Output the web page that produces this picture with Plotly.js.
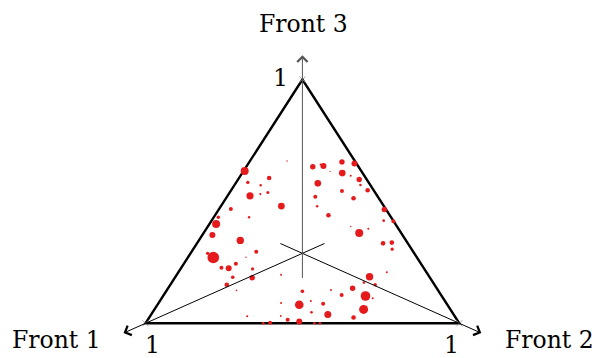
<!DOCTYPE html>
<html>
<head>
<meta charset="utf-8">
<script src="https://cdn.plot.ly/plotly-3.0.1.min.js"></script>
<style>
  html, body { margin: 0; padding: 0; background: #ffffff; }
  #chart { width: 595px; height: 358px; }
</style>
</head>
<body>
<div id="chart"></div>
<script>
// Solutions projected into the triangle spanned by the three fronts.
// x runs along the base (Front 1 = 0, Front 2 = 1), y up to Front 3 (= 1).
const posX = [
  0.316, 0.451, 0.394, 0.326, 0.367, 0.333, 0.366, 0.390, 0.433, 0.272,
  0.330, 0.232, 0.225, 0.213, 0.302, 0.353, 0.198, 0.216, 0.320, 0.288,
  0.242, 0.265, 0.341, 0.278, 0.340, 0.259, 0.290, 0.432,
  0.500, 0.490, 0.432, 0.527, 0.529, 0.566, 0.581, 0.591, 0.625, 0.660,
  0.701, 0.724, 0.695, 0.663, 0.714, 0.696, 0.732, 0.769, 0.324, 0.431,
  0.453, 0.490, 0.397, 0.375, 0.538, 0.556,
  0.533, 0.567, 0.558, 0.588, 0.626, 0.666, 0.627, 0.654, 0.681, 0.685,
  0.708, 0.549, 0.626, 0.663, 0.541, 0.547, 0.583, 0.761, 0.790, 0.759,
  0.654, 0.681, 0.710, 0.757, 0.785, 0.786
];
const posY = [
  0.625, 0.666, 0.596, 0.578, 0.566, 0.523, 0.530, 0.537, 0.481, 0.469,
  0.435, 0.435, 0.407, 0.362, 0.340, 0.294, 0.287, 0.270, 0.271, 0.244,
  0.228, 0.226, 0.223, 0.189, 0.187, 0.158, 0.135, 0.199,
  0.131, 0.076, 0.083, 0.091, 0.045, 0.080, 0.036, 0.137, 0.116, 0.144,
  0.112, 0.103, 0.057, 0.024, 0.191, 0.167, 0.158, 0.209, 0.029, 0.030,
  0.015, 0.007, 0.002, 0.000, 0.000, 0.000,
  0.642, 0.645, 0.651, 0.623, 0.662, 0.655, 0.616, 0.605, 0.590, 0.567,
  0.546, 0.574, 0.543, 0.513, 0.519, 0.480, 0.443, 0.467, 0.419, 0.421,
  0.397, 0.370, 0.388, 0.328, 0.331, 0.304
];
// Weight of each solution (shown as dot size)
const weight = [
  4.0, 0.7, 2.3, 1.7, 1.2, 3.6, 1.1, 1.5, 3.4, 2.0,
  1.2, 1.7, 4.0, 3.0, 3.7, 2.0, 1.7, 5.8, 0.7, 2.0,
  2.0, 3.0, 1.6, 1.8, 2.7, 2.3, 0.8, 1.0,
  1.8, 4.3, 1.0, 1.0, 1.3, 2.0, 3.5, 1.0, 2.0, 2.7,
  4.8, 1.0, 4.5, 2.3, 3.7, 1.3, 1.7, 1.0, 1.1, 0.9,
  2.0, 3.0, 2.0, 1.4, 1.3, 1.3,
  2.7, 3.0, 1.0, 0.6, 2.7, 3.0, 3.3, 1.0, 2.7, 1.3,
  2.3, 3.3, 2.0, 2.3, 2.0, 1.2, 2.3, 2.7, 2.0, 1.3,
  0.7, 4.0, 1.0, 2.3, 2.3, 1.6
];

const frontNames = ['Front 1', 'Front 2', 'Front 3'];
const vertexX = [0, 1, 0.5];
const vertexY = [0, 0, 1];
const vertexTick = ['1', '1', '1'];
const centre = [0.5, 0.287];

const W = 595, H = 358;
const FONT = { family: 'DejaVu Serif, serif', size: 23.5, color: '#000000' };

// triangle outline
const tri = 'M ' + vertexX.map((x, i) => x + ',' + vertexY[i]).join(' L ') + ' Z';
const shapes = [{
  type: 'path', xref: 'x', yref: 'y', path: tri, layer: 'below',
  line: { color: '#000000', width: 2.4 }
}];

// one axis per front: starts a little past the centre, ends in an arrow beyond the vertex
const annotations = [];
vertexX.forEach((vx, i) => {
  const dx = vx - centre[0], dy = vertexY[i] - centre[1];
  annotations.push({
    xref: 'x', yref: 'y', axref: 'x', ayref: 'y',
    x: centre[0] + 1.14 * dx, y: centre[1] + 1.14 * dy,
    ax: centre[0] - 0.15 * dx, ay: centre[1] - 0.15 * dy,
    text: '', showarrow: true, arrowhead: 4, arrowsize: 2.0,
    arrowwidth: 1, arrowcolor: i === 2 ? '#555555' : '#000000', standoff: 0
  });
});

// labels (paper position in px of this 595x358 canvas)
const labelPos = [[56, 339.5], [549.5, 339.5], [303, 23.5]];
const tickPos = [[152.5, 344.5], [451, 344.5], [280, 77.5]];
frontNames.forEach((name, i) => {
  annotations.push({
    xref: 'paper', yref: 'paper', x: labelPos[i][0] / W, y: 1 - labelPos[i][1] / H,
    xanchor: 'center', yanchor: 'middle', text: name, showarrow: false, font: FONT
  });
  annotations.push({
    xref: 'paper', yref: 'paper', x: tickPos[i][0] / W, y: 1 - tickPos[i][1] / H,
    xanchor: 'center', yanchor: 'middle', text: vertexTick[i], showarrow: false, font: FONT
  });
});

const traces = [
  {
    type: 'scatter', mode: 'markers', x: vertexX, y: vertexY, hoverinfo: 'skip',
    marker: { symbol: 'x-thin', size: 6, color: '#888888', line: { color: '#888888', width: 0.8 } }
  },
  {
    type: 'scatter', mode: 'markers', x: posX, y: posY, hoverinfo: 'skip',
    marker: {
      color: '#e41a1c', opacity: 1, size: weight, sizemode: 'diameter', sizeref: 0.5,
      line: { width: 0 }
    }
  }
];

const layout = {
  width: W, height: H,
  margin: { l: 0, r: 0, t: 0, b: 0 },
  paper_bgcolor: '#ffffff', plot_bgcolor: '#ffffff',
  showlegend: false,
  xaxis: { range: [-0.4637, 1.4324], visible: false, fixedrange: true },
  yaxis: { range: [-0.1423, 1.3261], visible: false, fixedrange: true },
  shapes: shapes,
  annotations: annotations
};

Plotly.newPlot('chart', traces, layout, { displayModeBar: false, staticPlot: true });
</script>
</body>
</html>
